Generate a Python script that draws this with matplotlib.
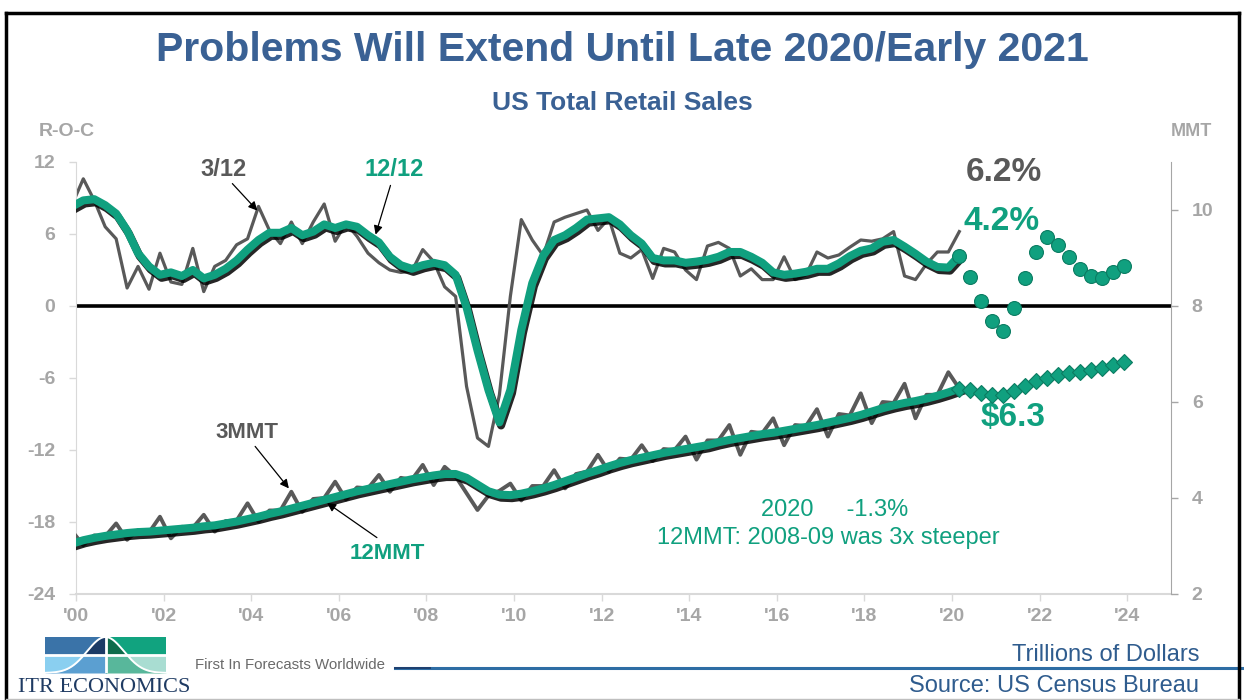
import numpy as np
import pandas as pd
import matplotlib
matplotlib.use('Agg')
import matplotlib.pyplot as plt
import matplotlib.patheffects as pe
from matplotlib.patches import Rectangle
from matplotlib.lines import Line2D

plt.rcParams['font.family'] = ['Liberation Sans', 'DejaVu Sans']

# quarterly history (Dec 1999 .. Mar 2020) and quarterly forecast (Mar 2020 .. Dec 2023)
quarters = pd.date_range('1999-12-01', '2020-03-01', freq='3MS')
fc_quarters = pd.date_range('2020-03-01', '2023-12-01', freq='3MS')

# rate-of-change, %
roc_3_12 = [8.5, 10.6, 8.8, 6.6, 5.6, 1.5, 3.3, 1.4, 4.4, 2.0, 1.8, 4.8, 1.2, 3.3, 3.8, 5.1,
            5.6, 8.3, 6.3, 5.2, 7.0, 5.2, 7.0, 8.5, 5.4, 6.9, 5.8, 4.4, 3.6, 3.0, 2.8, 2.9,
            4.7, 3.7, 1.6, 0.8, -6.7, -11.0, -11.7, -7.4, 0.8, 7.2, 5.5, 4.2, 7.0, 7.4, 7.7, 8.0,
            6.3, 7.3, 4.4, 4.0, 4.7, 2.3, 4.8, 4.5, 3.0, 2.2, 5.0, 5.3, 4.8, 2.5, 3.1, 2.2,
            2.2, 4.1, 2.2, 2.6, 4.5, 4.0, 4.25, 4.9, 5.5, 5.4, 5.6, 6.2, 2.5, 2.2, 3.5, 4.5,
            4.5, 6.2]
roc_12_12 = [8.3, 8.8, 8.9, 8.4, 7.7, 6.3, 4.4, 3.3, 2.6, 2.8, 2.5, 3.0, 2.3, 2.6, 3.1, 3.8,
             4.7, 5.5, 6.1, 6.1, 6.5, 5.9, 6.2, 6.8, 6.5, 6.8, 6.6, 5.9, 5.3, 4.1, 3.4, 3.1,
             3.4, 3.6, 3.4, 2.6, -0.1, -3.7, -7.0, -9.7, -7.0, -2.0, 1.9, 4.2, 5.5, 5.9, 6.5, 7.2,
             7.3, 7.4, 6.8, 5.9, 5.2, 4.0, 3.8, 3.8, 3.6, 3.7, 3.85, 4.1, 4.5, 4.5, 4.1, 3.6,
             2.8, 2.6, 2.7, 2.85, 3.1, 3.1, 3.55, 4.15, 4.6, 4.8, 5.35, 5.5, 4.95, 4.35, 3.7, 3.25,
             3.2, 4.2]
fc_12_12 = [4.2, 2.44, 0.42, -1.28, -2.06, -0.19, 2.33, 4.53, 5.72, 5.11, 4.06, 3.06,
            2.5, 2.33, 2.83, 3.33]

# moving totals, trillions of dollars
mmt_3 = [3.30, 3.02, 3.22, 3.20, 3.47, 3.13, 3.33, 3.28, 3.61, 3.16, 3.40, 3.38, 3.65, 3.30, 3.52, 3.53,
         3.89, 3.51, 3.74, 3.74, 4.13, 3.71, 3.98, 4.00, 4.34, 3.97, 4.22, 4.20, 4.48, 4.13, 4.42, 4.38,
         4.69, 4.27, 4.65, 4.45, 4.10, 3.75, 4.05, 4.15, 4.30, 3.95, 4.25, 4.25, 4.58, 4.20, 4.50, 4.55,
         4.90, 4.55, 4.82, 4.80, 5.10, 4.77, 5.02, 5.00, 5.28, 4.80, 5.20, 5.20, 5.52, 4.90, 5.38, 5.35,
         5.66, 5.10, 5.52, 5.50, 5.85, 5.28, 5.75, 5.72, 6.18, 5.56, 6.00, 5.98, 6.38, 5.66, 6.15, 6.15,
         6.62, 6.28]
mmt_12 = [3.05, 3.12, 3.17, 3.21, 3.24, 3.27, 3.29, 3.30, 3.32, 3.34, 3.36, 3.38, 3.41, 3.43, 3.47, 3.51,
          3.56, 3.61, 3.67, 3.72, 3.78, 3.84, 3.90, 3.96, 4.02, 4.08, 4.14, 4.19, 4.24, 4.29, 4.34, 4.39,
          4.43, 4.47, 4.50, 4.50, 4.42, 4.28, 4.14, 4.07, 4.06, 4.09, 4.14, 4.20, 4.27, 4.35, 4.43, 4.51,
          4.58, 4.66, 4.73, 4.79, 4.84, 4.89, 4.94, 4.98, 5.02, 5.06, 5.10, 5.16, 5.21, 5.25, 5.29, 5.33,
          5.36, 5.40, 5.44, 5.48, 5.52, 5.57, 5.62, 5.67, 5.73, 5.80, 5.87, 5.93, 5.98, 6.02, 6.07, 6.13,
          6.20, 6.28]
fc_12mmt = [6.28, 6.25, 6.19, 6.15, 6.15, 6.23, 6.33, 6.44, 6.51, 6.56, 6.61, 6.63,
            6.67, 6.71, 6.78, 6.84]

year_ticks = list(range(2000, 2026, 2))
year_labels = ["'00", "'02", "'04", "'06", "'08", "'10", "'12", "'14", "'16", "'18", "'20", "'22", "'24"]
roc_ticks = [-24, -18, -12, -6, 0, 6, 12]
mmt_ticks = [2, 4, 6, 8, 10]

GREEN = '#10A07F'
DGRAY = '#595959'
TICK = '#A6A6A6'
BLUE = '#3A6194'
W, H = 1244, 700


def dec_year(idx):
    return idx.year + (idx.month - 1) / 12


def fx(px):
    return px / W


def fy(py):
    return 1 - py / H


x_hist = dec_year(quarters)
x_fc = dec_year(fc_quarters)

fig = plt.figure(figsize=(W / 100, H / 100), dpi=100)
ax = fig.add_axes([fx(76), fy(594), (1171 - 76) / W, (594 - 162) / H])
ax2 = ax.twinx()

shadow = [pe.SimpleLineShadow(offset=(1.2, -2.2), shadow_color='black', alpha=0.85), pe.Normal()]

# R-O-C lines (left axis)
ax.axhline(0, color='black', lw=2.6, zorder=1)
ax.plot(x_hist, roc_3_12, color=DGRAY, lw=2.3, zorder=2)
ax.plot(x_hist, roc_12_12, color=GREEN, lw=5.8, zorder=3, path_effects=shadow)
ax.plot(x_fc, fc_12_12, 'o', ms=10, mfc=GREEN, mec='#0B7C62', mew=0.8, ls='none', zorder=4)

# moving totals (right axis)
ax2.plot(x_hist, mmt_3, color=DGRAY, lw=2.8, zorder=2)
ax2.plot(x_hist, mmt_12, color=GREEN, lw=5.8, zorder=3, path_effects=shadow)
ax2.plot(x_fc, fc_12mmt, 'D', ms=8.5, mfc=GREEN, mec='#0B7C62', mew=0.8, ls='none', zorder=4)

ax.set_xlim(2000, 2025)
ax.set_ylim(-24, 12)
ax2.set_ylim(2, 11)

ax.set_xticks(year_ticks)
ax.set_xticklabels(year_labels, fontsize=14, fontweight='bold', color=TICK)
ax.set_yticks(roc_ticks)
ax.set_yticklabels([str(t) for t in roc_ticks], fontsize=14, fontweight='bold', color=TICK)
ax2.set_yticks(mmt_ticks)
ax2.set_yticklabels([str(t) for t in mmt_ticks], fontsize=14, fontweight='bold', color=TICK)

ax.tick_params(axis='x', length=5, width=1, color='#D9D9D9', pad=5)
ax.tick_params(axis='y', length=5, width=1, color='#D9D9D9', pad=10)
ax2.tick_params(axis='y', length=5, width=1, color=TICK, pad=10)

for s in ['top', 'right']:
    ax.spines[s].set_visible(False)
for s in ['top', 'left', 'bottom']:
    ax2.spines[s].set_visible(False)
ax.spines['left'].set_color('#D9D9D9')
ax.spines['bottom'].set_color('#D9D9D9')
ax.spines['bottom'].set_linewidth(1.5)
ax2.spines['right'].set_color(TICK)

# labels and callouts
arrow = dict(arrowstyle='-|>', color='black', lw=0.9, mutation_scale=13, shrinkA=0, shrinkB=0)
ax.text(2003.37, 11.35, '3/12', color=DGRAY, fontsize=17, fontweight='bold', ha='center', va='center')
ax.annotate('', xy=(2004.14, 7.95), xytext=(2003.57, 10.2), arrowprops=arrow)
ax.text(2007.26, 11.35, '12/12', color=GREEN, fontsize=17, fontweight='bold', ha='center', va='center')
ax.annotate('', xy=(2006.84, 5.95), xytext=(2007.18, 10.05), arrowprops=arrow)
ax.text(2003.9, -10.5, '3MMT', color=DGRAY, fontsize=16, fontweight='bold', ha='center', va='center')
ax.annotate('', xy=(2004.86, -15.2), xytext=(2004.09, -11.7), arrowprops=arrow)
ax.text(2007.1, -20.6, '12MMT', color=GREEN, fontsize=16, fontweight='bold', ha='center', va='center')
ax.annotate('', xy=(2005.73, -16.4), xytext=(2006.87, -19.3), arrowprops=arrow)

ax.text(2021.19, 11.1, f'{roc_3_12[-1]:.1f}%', color=DGRAY, fontsize=24, fontweight='bold',
        ha='center', va='center')
ax.text(2021.14, 7.0, f'{roc_12_12[-1]:.1f}%', color=GREEN, fontsize=24, fontweight='bold',
        ha='center', va='center')
ax2.text(2021.39, mmt_12[-1] - 0.61, f'${mmt_12[-1]:.1f}', color=GREEN, fontsize=24, fontweight='bold',
         ha='center', va='center')
ax.text(2017.31, -17.0, '2020     -1.3%', color=GREEN, fontsize=17, ha='center', va='center')
ax.text(2017.17, -19.35, '12MMT: 2008-09 was 3x steeper', color=GREEN, fontsize=17,
        ha='center', va='center')

# titles
fig.text(0.5, fy(50), 'Problems Will Extend Until Late 2020/Early 2021', color=BLUE, fontsize=29.5,
         fontweight='bold', ha='center', va='center')
fig.text(0.5, fy(103), 'US Total Retail Sales', color=BLUE, fontsize=19, fontweight='bold',
         ha='center', va='center')
fig.text(fx(67), fy(131), 'R-O-C', color=TICK, fontsize=14, fontweight='bold', ha='center', va='center')
fig.text(fx(1191), fy(131), 'MMT', color=TICK, fontsize=13, fontweight='bold', ha='center', va='center')

# footer
fig.text(fx(1199), fy(655), 'Trillions of Dollars', color='#2F5C8E', fontsize=17, ha='right', va='center')
fig.text(fx(1199), fy(686), 'Source: US Census Bureau', color='#2F5C8E', fontsize=17, ha='right', va='center')
fig.add_artist(Line2D([fx(395), 1.0], [fy(668), fy(668)], color='#2E6DA4', lw=2.2))
fig.add_artist(Line2D([fx(395), fx(430)], [fy(668), fy(668)], color='#1E3F6F', lw=1.4))
fig.text(fx(195), fy(665), 'First In Forecasts Worldwide', color='#6A6A6A', fontsize=10.8,
         ha='left', va='center')
fig.text(fx(104), fy(688), 'ITR ECONOMICS', color='#1F3B63', fontsize=16, ha='center', va='center',
         family=['Liberation Serif', 'DejaVu Serif'])

# logo
logo = fig.add_axes([fx(45), fy(673), 121 / W, 36 / H])
logo.set_xlim(0, 1)
logo.set_ylim(0, 1)
logo.axis('off')
cx = np.linspace(0, 1, 200)
bell = np.exp(-((cx - 0.5) / 0.214) ** 2)
quads = [(0.0, 0.0, '#8ACFF0', '#5B9FD1'), (0.5, 0.0, '#A9DDD2', '#58B79B'),
         (0.0, 0.5, '#3A73A8', '#1B3A66'), (0.5, 0.5, '#11A37F', '#0E6B4A')]
for qx, qy, outer, inner in quads:
    rect = Rectangle((qx, qy), 0.5, 0.5, color=outer, lw=0)
    logo.add_patch(rect)
    under = logo.fill_between(cx, 0, bell, color=inner, lw=0)
    under.set_clip_path(rect)
logo.plot(cx, bell, color='white', lw=1.4)
logo.axvline(0.5, color='white', lw=2)
logo.axhline(0.5, color='white', lw=2)

# slide frame
frame = dict(color='black', lw=2.5)
fig.add_artist(Line2D([fx(6), fx(6)], [fy(13), fy(699)], **frame))
fig.add_artist(Line2D([fx(6), fx(1239)], [fy(13), fy(13)], **frame))
fig.add_artist(Line2D([fx(1239), fx(1239)], [fy(13), fy(699)], **frame))
fig.add_artist(Line2D([fx(6), fx(1239)], [fy(698.5), fy(698.5)], color='#BFBFBF', lw=1))

fig.savefig('out.png', dpi=100)
